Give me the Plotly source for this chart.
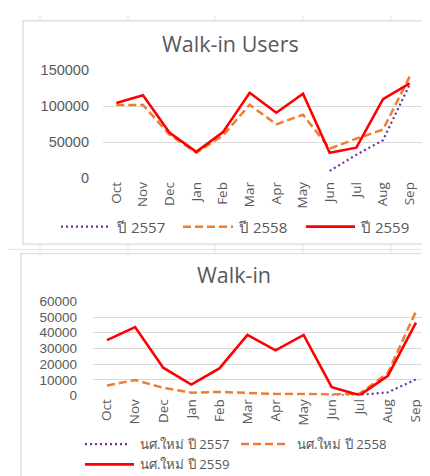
import plotly.graph_objects as go

# ---------------------- data ----------------------
months = ['Oct', 'Nov', 'Dec', 'Jan', 'Feb', 'Mar', 'Apr', 'May', 'Jun', 'Jul', 'Aug', 'Sep']

# Walk-in Users
users_2557 = [None, None, None, None, None, None, None, None, 10300, 32700, 52800, 130000]
users_2558 = [101600, 101600, 60400, 35400, 59500, 102000, 74800, 88200, 41200, 55000, 67600, 141000]
users_2559 = [104300, 115000, 63000, 36700, 64000, 118600, 91000, 117300, 35400, 42500, 109700, 131600]

# Walk-in (new students)
new_2557 = [None, None, None, None, None, None, None, None, 0, 400, 2000, 10300]
new_2558 = [6400, 9900, 4900, 1800, 2300, 1800, 1000, 1000, 600, 1200, 14400, 53600]
new_2559 = [35300, 43600, 17700, 7000, 17300, 38600, 28800, 38600, 5300, 200, 12500, 46400]

top_names = ['ปี 2557', 'ปี 2558', 'ปี 2559']
bottom_names = ['นศ.ใหม่ ปี 2557', 'นศ.ใหม่ ปี 2558', 'นศ.ใหม่ ปี 2559']

W, H = 430, 476
FONT = 'Open Sans'
NUMFONT = 'Liberation Sans'
GREY = '#595959'
GRID = '#D9D9D9'
styles = [('#7030A0', '2px,3px', 2.2), ('#ED7D31', '8px,4px', 2.5), ('#FF0000', 'solid', 2.6)]


def px(x):
    return x / W


def py(y):
    return 1 - y / H


fig = go.Figure()

for vals, (c, d, w) in zip([users_2557, users_2558, users_2559], styles):
    fig.add_trace(go.Scatter(x=months, y=vals, mode='lines', line=dict(color=c, dash=d, width=w),
                             xaxis='x', yaxis='y', showlegend=False, connectgaps=False))
for vals, (c, d, w) in zip([new_2557, new_2558, new_2559], styles):
    fig.add_trace(go.Scatter(x=months, y=vals, mode='lines', line=dict(color=c, dash=d, width=w),
                             xaxis='x2', yaxis='y2', showlegend=False, connectgaps=False))

xcommon = dict(type='category', range=[-0.5, 11.5], tickangle=-90,
               tickfont=dict(family=FONT, size=13.5, color=GREY),
               showgrid=False, zeroline=False, showline=False, ticks='', fixedrange=True)
ycommon = dict(showgrid=True, gridcolor=GRID, gridwidth=1.3, zeroline=False, showline=False,
               ticks='', tickformat='d', fixedrange=True)

shapes = []
# spreadsheet grid behind the charts
sheet = '#E3E3E3'
for gx in [32, 120, 207, 295, 383]:
    shapes.append(dict(type='line', xref='paper', yref='paper', x0=px(gx), x1=px(gx), y0=py(0), y1=py(5),
                       line=dict(color=sheet, width=1), layer='below'))
    shapes.append(dict(type='line', xref='paper', yref='paper', x0=px(gx), x1=px(gx), y0=py(236), y1=py(246),
                       line=dict(color=sheet, width=1), layer='below'))
shapes.append(dict(type='line', xref='paper', yref='paper', x0=0, x1=1, y0=py(241.5), y1=py(241.5),
                   line=dict(color=sheet, width=1), layer='below'))
# chart borders
shapes.append(dict(type='rect', xref='paper', yref='paper', x0=px(15), x1=px(440), y0=py(236), y1=py(5),
                   line=dict(color=GRID, width=1.2), layer='below'))
shapes.append(dict(type='rect', xref='paper', yref='paper', x0=px(13), x1=px(440), y0=py(490), y1=py(246),
                   line=dict(color=GRID, width=1.2), layer='below'))

annotations = [
    dict(text='Walk-in Users', x=px(222), y=py(28), xref='paper', yref='paper', showarrow=False,
         font=dict(family=FONT, size=21.5, color=GREY), xanchor='center', yanchor='middle'),
    dict(text='Walk-in', x=px(226), y=py(268), xref='paper', yref='paper', showarrow=False,
         font=dict(family=FONT, size=21.5, color=GREY), xanchor='center', yanchor='middle'),
]

# legends drawn by hand to match Excel layout
top_leg = [(53, 100, 106, 218), (175, 225, 228, 218), (298, 347, 350, 218)]
bot_leg = [(77, 121, 130, 443), (233, 281, 287, 443), (77, 126, 130, 464)]
for legs, names, fs in [(top_leg, top_names, 15), (bot_leg, bottom_names, 13.2)]:
    for (x0, x1, tx, ly), name, (c, d, w) in zip(legs, names, styles):
        shapes.append(dict(type='line', xref='paper', yref='paper', x0=px(x0), x1=px(x1), y0=py(ly), y1=py(ly),
                           line=dict(color=c, dash=d, width=w)))
        annotations.append(dict(text=name, x=px(tx), y=py(ly), xref='paper', yref='paper', showarrow=False,
                                xanchor='left', yanchor='middle',
                                font=dict(family=FONT, size=fs, color=GREY)))

fig.update_layout(
    width=W, height=H,
    margin=dict(l=0, r=0, t=0, b=0),
    paper_bgcolor='white', plot_bgcolor='white',
    xaxis=dict(domain=[px(95), px(415)], anchor='y', **xcommon),
    yaxis=dict(domain=[py(168), py(56)], anchor='x', range=[0, 150000], dtick=50000,
               ticklabelstandoff=13, tickfont=dict(family=NUMFONT, size=14.5, color=GREY), **ycommon),
    xaxis2=dict(domain=[px(85), px(422)], anchor='y2', **xcommon),
    yaxis2=dict(domain=[py(392.7), py(295.3)], anchor='x2', range=[0, 60000], dtick=10000,
                ticklabelstandoff=15, tickfont=dict(family=NUMFONT, size=13.5, color=GREY), **ycommon),
    shapes=shapes,
    annotations=annotations,
)

fig.write_html('out.html')
